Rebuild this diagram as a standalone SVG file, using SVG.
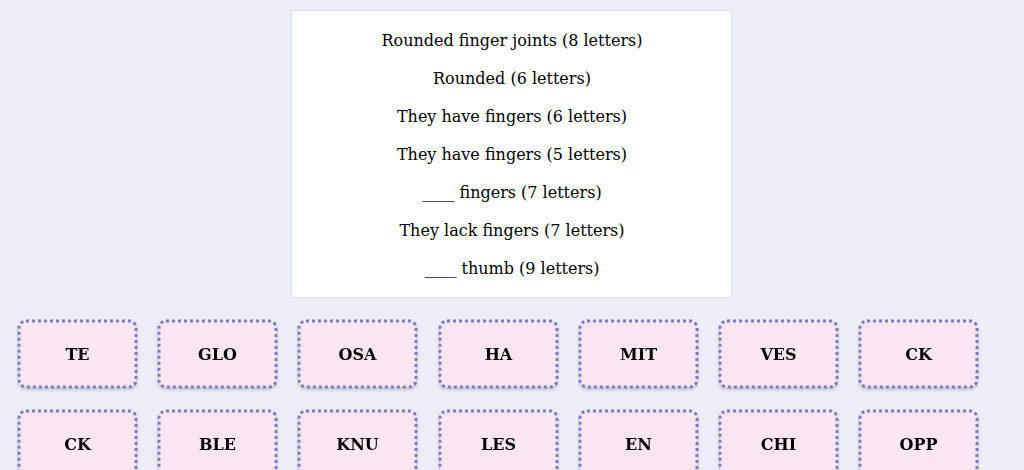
<svg xmlns="http://www.w3.org/2000/svg" width="1024" height="470" viewBox="0 0 1024 470">
<defs>
<style>
.q{font-family:"DejaVu Serif",serif;font-size:16px;fill:#000;text-anchor:middle}
.t rect{fill:#f9e6f2;stroke:#7d7dbd;stroke-width:3;stroke-dasharray:3 3}
.t text{font-family:"DejaVu Serif",serif;font-size:16px;font-weight:bold;fill:#000;text-anchor:middle}
</style>
<filter id="sh" x="-10%" y="-10%" width="120%" height="130%"><feDropShadow dx="0" dy="2" stdDeviation="1.5" flood-color="#000" flood-opacity="0.2"/></filter>
</defs>
<rect width="1024" height="470" fill="#eeeefa"/>
<g id="clues">
<rect x="291.5" y="10.5" width="440" height="287" fill="#fff" stroke="#e0e0e8"/>
<text class="q" x="512" y="46">Rounded finger joints (8 letters)</text>
<text class="q" x="512" y="84">Rounded (6 letters)</text>
<text class="q" x="512" y="122">They have fingers (6 letters)</text>
<text class="q" x="512" y="160">They have fingers (5 letters)</text>
<text class="q" x="512" y="198">____ fingers (7 letters)</text>
<text class="q" x="512" y="236">They lack fingers (7 letters)</text>
<text class="q" x="512" y="274">____ thumb (9 letters)</text>
</g>
<g id="connectors"/>
<g id="t1" class="t" filter="url(#sh)"><rect x="19" y="321" width="117" height="66" rx="7"/><text x="77.5" y="360">TE</text></g>
<g id="t2" class="t" filter="url(#sh)"><rect x="159" y="321" width="117" height="66" rx="7"/><text x="217.5" y="360">GLO</text></g>
<g id="t3" class="t" filter="url(#sh)"><rect x="299" y="321" width="117" height="66" rx="7"/><text x="357.5" y="360">OSA</text></g>
<g id="t4" class="t" filter="url(#sh)"><rect x="440" y="321" width="117" height="66" rx="7"/><text x="498.5" y="360">HA</text></g>
<g id="t5" class="t" filter="url(#sh)"><rect x="580" y="321" width="117" height="66" rx="7"/><text x="638.5" y="360">MIT</text></g>
<g id="t6" class="t" filter="url(#sh)"><rect x="720" y="321" width="117" height="66" rx="7"/><text x="778.5" y="360">VES</text></g>
<g id="t7" class="t" filter="url(#sh)"><rect x="860" y="321" width="117" height="66" rx="7"/><text x="918.5" y="360">CK</text></g>
<g id="t8" class="t" filter="url(#sh)"><rect x="19" y="411" width="117" height="66" rx="7"/><text x="77.5" y="450">CK</text></g>
<g id="t9" class="t" filter="url(#sh)"><rect x="159" y="411" width="117" height="66" rx="7"/><text x="217.5" y="450">BLE</text></g>
<g id="t10" class="t" filter="url(#sh)"><rect x="299" y="411" width="117" height="66" rx="7"/><text x="357.5" y="450">KNU</text></g>
<g id="t11" class="t" filter="url(#sh)"><rect x="440" y="411" width="117" height="66" rx="7"/><text x="498.5" y="450">LES</text></g>
<g id="t12" class="t" filter="url(#sh)"><rect x="580" y="411" width="117" height="66" rx="7"/><text x="638.5" y="450">EN</text></g>
<g id="t13" class="t" filter="url(#sh)"><rect x="720" y="411" width="117" height="66" rx="7"/><text x="778.5" y="450">CHI</text></g>
<g id="t14" class="t" filter="url(#sh)"><rect x="860" y="411" width="117" height="66" rx="7"/><text x="918.5" y="450">OPP</text></g>
</svg>
